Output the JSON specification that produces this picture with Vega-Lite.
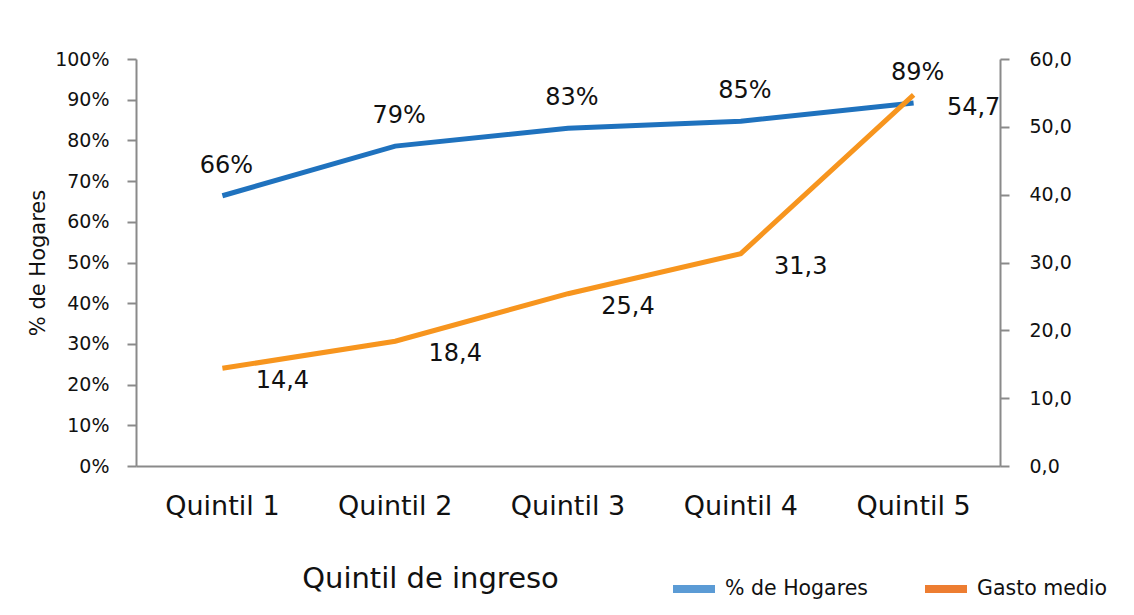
{
  "$schema": "https://vega.github.io/schema/vega-lite/v6.json",
  "width": 864,
  "height": 407,
  "autosize": "none",
  "padding": {"left": 136, "top": 59, "right": 134, "bottom": 149},
  "config": {
    "font": "DejaVu Sans",
    "view": {"stroke": null},
    "locale": {"number": {"decimal": ",", "thousands": ".", "grouping": [3], "currency": ["", " €"]}},
    "axis": {"labelColor": "#111111", "titleColor": "#111111", "domainColor": "#8a8a8a", "tickColor": "#8a8a8a", "domainWidth": 2, "tickWidth": 2, "grid": false, "titleFontWeight": "normal"}
  },
  "data": {
    "values": [
      {"quintil": "Quintil 1", "hogares": 0.664, "gasto": 14.4},
      {"quintil": "Quintil 2", "hogares": 0.786, "gasto": 18.4},
      {"quintil": "Quintil 3", "hogares": 0.83, "gasto": 25.4},
      {"quintil": "Quintil 4", "hogares": 0.847, "gasto": 31.3},
      {"quintil": "Quintil 5", "hogares": 0.892, "gasto": 54.7}
    ]
  },
  "encoding": {
    "x": {
      "field": "quintil",
      "type": "nominal",
      "sort": null,
      "scale": {"type": "band", "paddingInner": 0, "paddingOuter": 0, "domain": ["Quintil 1", "Quintil 2", "Quintil 3", "Quintil 4", "Quintil 5"]},
      "axis": {
        "orient": "bottom",
        "ticks": false,
        "labelAngle": 0,
        "labelFontSize": 27,
        "labelPadding": 27,
        "title": "Quintil de ingreso",
        "titleFontSize": 29,
        "titleX": 294,
        "titleY": 112,
        "titleBaseline": "middle",
        "titleAlign": "center"
      }
    }
  },
  "layer": [
    {
      "layer": [
        {
          "mark": {"type": "line", "color": "#1F72BE", "strokeWidth": 5},
          "encoding": {
            "y": {
              "field": "hogares",
              "type": "quantitative",
              "scale": {"domain": [0, 1]},
              "axis": {
                "orient": "left",
                "values": [0, 0.1, 0.2, 0.3, 0.4, 0.5, 0.6, 0.7, 0.8, 0.9, 1],
                "format": ".0%",
                "tickSize": 9,
                "labelFontSize": 19,
                "labelPadding": 18,
                "title": "% de Hogares",
                "titleFontSize": 21,
                "titlePadding": 6
              }
            }
          }
        },
        {
          "mark": {"type": "text", "fontSize": 24, "color": "#111111", "dy": -30, "dx": 4},
          "encoding": {
            "y": {"field": "hogares", "type": "quantitative"},
            "text": {"field": "hogares", "type": "quantitative", "format": ".0%"}
          }
        },
        {
          "data": {"values": [{"serie": "% de Hogares"}, {"serie": "Gasto medio"}]},
          "mark": {"type": "line", "strokeWidth": 8},
          "encoding": {
            "y": {"field": "hogares", "type": "quantitative"},
            "color": {
              "field": "serie",
              "type": "nominal",
              "scale": {"domain": ["% de Hogares", "Gasto medio"], "range": ["#5B9BD5", "#ED7D31"]},
              "legend": {
                "orient": "none",
                "legendX": 533,
                "legendY": 505,
                "direction": "horizontal",
                "title": null,
                "symbolType": "stroke",
                "symbolStrokeWidth": 8,
                "symbolSize": 1764,
                "labelFontSize": 20.5,
                "labelColor": "#111111",
                "labelOffset": 6,
                "columnPadding": 41
              }
            }
          }
        }
      ]
    },
    {
      "layer": [
        {
          "mark": {"type": "line", "color": "#F7951E", "strokeWidth": 5},
          "encoding": {
            "y": {
              "field": "gasto",
              "type": "quantitative",
              "scale": {"domain": [0, 60]},
              "axis": {
                "orient": "right",
                "values": [0, 10, 20, 30, 40, 50, 60],
                "format": ".1f",
                "tickSize": 9,
                "labelFontSize": 19,
                "labelPadding": 20,
                "title": null
              }
            }
          }
        },
        {
          "mark": {"type": "text", "fontSize": 24, "color": "#111111", "dy": 13, "dx": 60},
          "encoding": {
            "y": {"field": "gasto", "type": "quantitative"},
            "text": {"field": "gasto", "type": "quantitative", "format": ".1f"}
          }
        }
      ]
    }
  ],
  "resolve": {"scale": {"y": "independent"}}
}
